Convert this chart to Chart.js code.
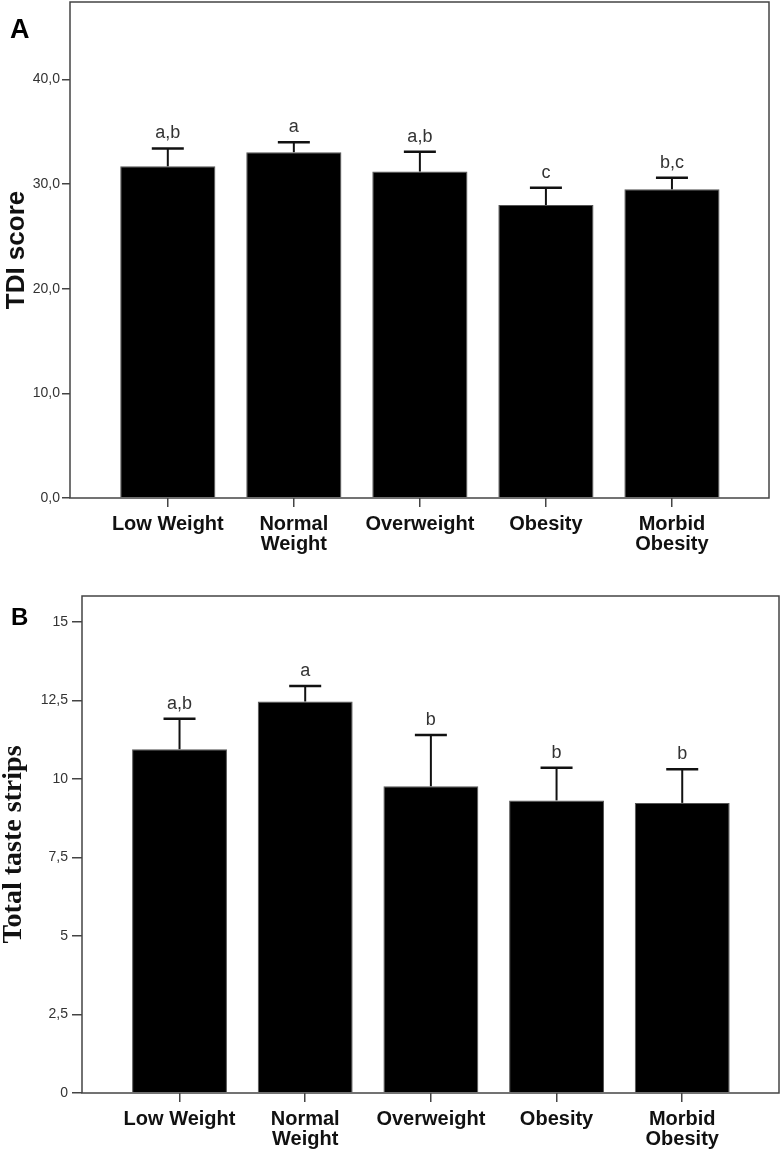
<!DOCTYPE html>
<html>
<head>
<meta charset="utf-8">
<script src="https://cdn.jsdelivr.net/npm/chart.js@4.4.1/dist/chart.umd.min.js"></script>
<style>
  html, body { margin: 0; padding: 0; background: #fff; }
  body { width: 782px; height: 1153px; position: relative; overflow: hidden; }
  .box { position: absolute; left: 0; width: 782px; }
  #boxA { top: 0; height: 560px; }
  #boxB { top: 560px; height: 593px; }
</style>
</head>
<body>
<div class="box" id="boxA"><canvas id="chartA"></canvas></div>
<div class="box" id="boxB"><canvas id="chartB"></canvas></div>
<script>
// ---- data ----
const categories = ['Low Weight', 'Normal Weight', 'Overweight', 'Obesity', 'Morbid Obesity'];
const tickLabelLines = [['Low Weight'], ['Normal', 'Weight'], ['Overweight'], ['Obesity'], ['Morbid', 'Obesity']];

const tdiMean = [31.7, 33.05, 31.2, 28.0, 29.5];
const tdiErr = [1.7, 0.95, 1.9, 1.65, 1.1];
const tdiLetters = ['a,b', 'a', 'a,b', 'c', 'b,c'];
const tdiTicks = [0, 10, 20, 30, 40];

const tasteMean = [10.95, 12.47, 9.77, 9.32, 9.24];
const tasteErr = [0.97, 0.49, 1.63, 1.04, 1.07];
const tasteLetters = ['a,b', 'a', 'b', 'b', 'b'];
const tasteTicks = [0, 2.5, 5, 7.5, 10, 12.5, 15];

const SANS = '"Liberation Sans", Arial, sans-serif';
const SERIF = '"Liberation Serif", "Times New Roman", serif';

function commaFmt(v, decimals) {
  return (decimals ? v.toFixed(decimals) : String(v)).replace('.', ',');
}

const extrasPlugin = {
  id: 'extras',
  afterDatasetsDraw(chart, args, opts) {
    const ctx = chart.ctx;
    const xs = chart.scales.x, ys = chart.scales.y;
    const ca = chart.chartArea;
    ctx.save();
    // error bars + letters
    opts.means.forEach((m, i) => {
      const x = xs.getPixelForValue(i);
      const yBar = ys.getPixelForValue(m);
      const yTop = ys.getPixelForValue(m + opts.errs[i]);
      ctx.strokeStyle = '#111';
      ctx.lineWidth = 2;
      ctx.beginPath();
      ctx.moveTo(x, yBar);
      ctx.lineTo(x, yTop);
      ctx.stroke();
      ctx.lineWidth = 2.5;
      ctx.beginPath();
      ctx.moveTo(x - 16, yTop);
      ctx.lineTo(x + 16, yTop);
      ctx.stroke();
      ctx.fillStyle = '#333';
      ctx.font = '18px ' + SANS;
      ctx.textAlign = 'center';
      ctx.textBaseline = 'alphabetic';
      ctx.fillText(opts.letters[i], x, yTop - 10);
    });
    // frame
    ctx.strokeStyle = '#444';
    ctx.lineWidth = 1.5;
    ctx.strokeRect(ca.left, ca.top, ca.right - ca.left, ca.bottom - ca.top);
    // panel letter
    ctx.fillStyle = '#000';
    ctx.font = 'bold ' + opts.panelSize + 'px ' + SANS;
    ctx.textAlign = 'left';
    ctx.textBaseline = 'alphabetic';
    ctx.fillText(opts.panel, opts.panelX, opts.panelY);
    ctx.restore();
  }
};

function makeChart(id, cfg) {
  const data = categories.map((c, i) => ({ x: i, y: cfg.means[i] }));
  return new Chart(document.getElementById(id), {
    type: 'bar',
    data: {
      datasets: [{
        data: data,
        backgroundColor: '#000',
        borderColor: '#555',
        borderWidth: 1,
        barPercentage: 0.755,
        categoryPercentage: 1.0
      }]
    },
    options: {
      responsive: true,
      maintainAspectRatio: false,
      animation: false,
      events: [],
      layout: { padding: { top: cfg.padTop, right: cfg.padRight, left: 0, bottom: 0 } },
      plugins: {
        legend: { display: false },
        tooltip: { enabled: false },
        extras: {
          means: cfg.means, errs: cfg.errs, letters: cfg.letters,
          panel: cfg.panel, panelX: cfg.panelX, panelY: cfg.panelY, panelSize: cfg.panelSize
        }
      },
      scales: {
        x: {
          type: 'linear',
          min: -0.776,
          max: 4.77,
          offset: false,
          afterFit(s) { s.height = cfg.xHeight; s.paddingLeft = 0; s.paddingRight = 0; },
          afterBuildTicks(s) { s.ticks = categories.map((c, i) => ({ value: i })); },
          grid: { offset: false, drawOnChartArea: false, drawTicks: true, tickLength: 9, color: '#444', lineWidth: 1.5 },
          border: { display: false },
          ticks: {
            autoSkip: false,
            maxRotation: 0,
            padding: 7,
            color: '#111',
            font: { family: SANS, size: 20, weight: 'bold', lineHeight: 1.0 },
            callback: (v) => tickLabelLines[v]
          }
        },
        y: {
          min: 0,
          max: cfg.yMax,
          afterFit(s) { s.width = cfg.yWidth; s.paddingTop = 0; s.paddingBottom = 0; },
          afterBuildTicks(s) { s.ticks = cfg.ticks.map(v => ({ value: v })); },
          grid: { drawOnChartArea: false, drawTicks: true, tickLength: cfg.tickLen, color: '#444', lineWidth: 1.5 },
          border: { display: false },
          ticks: {
            padding: cfg.tickPad,
            color: '#333',
            font: { family: SANS, size: 14 },
            callback: cfg.fmt
          },
          title: {
            display: true,
            text: cfg.title,
            color: '#111',
            font: cfg.titleFont,
            padding: { top: cfg.titlePadTop, bottom: 0 }
          }
        }
      }
    },
    plugins: [extrasPlugin]
  });
}

makeChart('chartA', {
  means: tdiMean, errs: tdiErr, letters: tdiLetters, ticks: tdiTicks,
  yMax: 47.4, padTop: 2, padRight: 13, xHeight: 62, yWidth: 70,
  tickLen: 8, tickPad: 2,
  fmt: (v) => commaFmt(v, 1),
  title: 'TDI score',
  titleFont: { family: SANS, size: 26, weight: 'bold', lineHeight: 1.0 },
  titlePadTop: 4,
  panel: 'A', panelX: 10, panelY: 38, panelSize: 27
});

makeChart('chartB', {
  means: tasteMean, errs: tasteErr, letters: tasteLetters, ticks: tasteTicks,
  yMax: 15.83, padTop: 36, padRight: 3, xHeight: 60, yWidth: 82,
  tickLen: 10, tickPad: 4,
  fmt: (v) => commaFmt(v, 0),
  title: 'Total taste strips',
  titleFont: { family: SERIF, size: 28, weight: 'bold', lineHeight: 1.0 },
  titlePadTop: 0,
  panel: 'B', panelX: 11, panelY: 65, panelSize: 24
});
</script>
</body>
</html>
